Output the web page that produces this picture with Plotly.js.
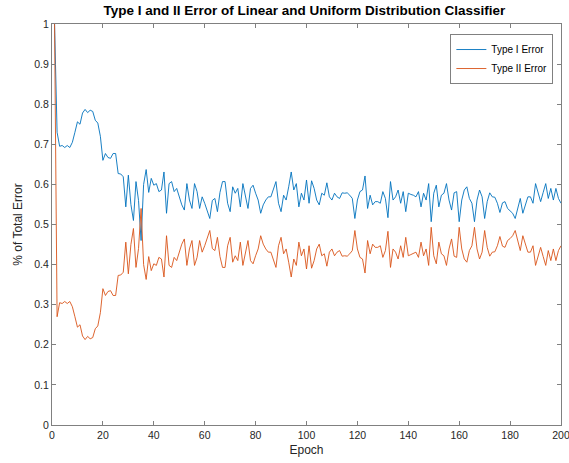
<!DOCTYPE html>
<html>
<head>
<meta charset="utf-8">
<script src="https://cdn.plot.ly/plotly-3.0.1.min.js"></script>
<style>
html,body{margin:0;padding:0;background:#fff;}
#chart{width:569px;height:463px;}
</style>
</head>
<body>
<div id="chart"></div>
<script>
// Epochs 1..200
const epochs = Array.from({length: 200}, (_, i) => i + 1);

const typeIError = [
1.0,0.73,0.695,0.697,0.692,0.697,0.692,0.705,0.73,0.756,
0.75,0.778,0.787,0.779,0.785,0.782,0.76,0.753,0.72,0.66,
0.677,0.667,0.665,0.677,0.677,0.627,0.626,0.619,0.544,0.623,
0.55,0.51,0.607,0.56,0.46,0.60,0.637,0.58,0.615,0.598,
0.602,0.582,0.586,0.631,0.528,0.602,0.607,0.582,0.59,0.57,
0.549,0.536,0.602,0.561,0.54,0.602,0.582,0.54,0.569,0.553,
0.535,0.515,0.56,0.565,0.532,0.58,0.607,0.607,0.553,0.532,
0.594,0.578,0.59,0.544,0.602,0.569,0.54,0.59,0.598,0.578,
0.561,0.528,0.549,0.561,0.569,0.569,0.586,0.607,0.553,0.532,
0.573,0.561,0.594,0.631,0.586,0.602,0.544,0.578,0.561,0.611,
0.553,0.609,0.59,0.561,0.549,0.578,0.573,0.604,0.569,0.561,
0.578,0.569,0.565,0.579,0.578,0.579,0.573,0.565,0.515,0.561,
0.582,0.586,0.621,0.54,0.573,0.549,0.557,0.557,0.553,0.582,
0.565,0.517,0.607,0.561,0.569,0.586,0.553,0.582,0.532,0.578,
0.575,0.573,0.569,0.582,0.544,0.578,0.561,0.602,0.507,0.578,
0.598,0.544,0.573,0.578,0.602,0.561,0.536,0.579,0.582,0.507,
0.561,0.586,0.594,0.565,0.553,0.507,0.561,0.586,0.569,0.515,
0.557,0.579,0.569,0.568,0.553,0.53,0.554,0.557,0.54,0.535,
0.528,0.515,0.544,0.565,0.528,0.549,0.569,0.569,0.553,0.602,
0.578,0.557,0.58,0.602,0.565,0.59,0.561,0.59,0.565,0.553
];

const typeIIError = [
1.0,0.27,0.305,0.303,0.308,0.303,0.308,0.295,0.27,0.244,
0.25,0.222,0.213,0.221,0.215,0.218,0.24,0.247,0.28,0.34,
0.323,0.333,0.335,0.323,0.323,0.373,0.374,0.381,0.456,0.377,
0.45,0.49,0.393,0.44,0.54,0.40,0.363,0.42,0.385,0.402,
0.398,0.418,0.414,0.369,0.472,0.398,0.393,0.418,0.41,0.43,
0.451,0.464,0.398,0.439,0.46,0.398,0.418,0.46,0.431,0.447,
0.465,0.485,0.44,0.435,0.468,0.42,0.393,0.393,0.447,0.468,
0.406,0.422,0.41,0.456,0.398,0.431,0.46,0.41,0.402,0.422,
0.439,0.472,0.451,0.439,0.431,0.431,0.414,0.393,0.447,0.468,
0.427,0.439,0.406,0.369,0.414,0.398,0.456,0.422,0.439,0.389,
0.447,0.391,0.41,0.439,0.451,0.422,0.427,0.396,0.431,0.439,
0.422,0.431,0.435,0.421,0.422,0.421,0.427,0.435,0.485,0.439,
0.418,0.414,0.379,0.46,0.427,0.451,0.443,0.443,0.447,0.418,
0.435,0.483,0.393,0.439,0.431,0.414,0.447,0.418,0.468,0.422,
0.425,0.427,0.431,0.418,0.456,0.422,0.439,0.398,0.493,0.422,
0.402,0.456,0.427,0.422,0.398,0.439,0.464,0.421,0.418,0.493,
0.439,0.414,0.406,0.435,0.447,0.493,0.439,0.414,0.431,0.485,
0.443,0.421,0.431,0.432,0.447,0.47,0.446,0.443,0.46,0.465,
0.472,0.485,0.456,0.435,0.472,0.451,0.431,0.431,0.447,0.398,
0.422,0.443,0.42,0.398,0.435,0.41,0.439,0.41,0.435,0.447
];

const seriesNames = ['Type I Error', 'Type II Error'];
const xTicks = [0,20,40,60,80,100,120,140,160,180,200];
const yTicks = [0,0.1,0.2,0.3,0.4,0.5,0.6,0.7,0.8,0.9,1];

const axisColor = '#262626';
const fontFam = 'Liberation Sans, Arial, Helvetica, sans-serif';

const traces = [
  {x: epochs, y: typeIError, name: seriesNames[0], type: 'scatter', mode: 'lines',
   line: {color: '#0072BD', width: 0.9}},
  {x: epochs, y: typeIIError, name: seriesNames[1], type: 'scatter', mode: 'lines',
   line: {color: '#D95319', width: 0.9}}
];

const axisCommon = {
  showgrid: false, zeroline: false, showline: true, linecolor: '#808080', linewidth: 1,
  mirror: 'ticks', ticks: 'inside', ticklen: 4, tickcolor: '#808080', tickwidth: 1,
  tickfont: {family: fontFam, size: 10.5, color: axisColor}
};

const layout = {
  width: 569, height: 463,
  margin: {l: 52, r: 8, t: 24, b: 38},
  paper_bgcolor: '#ffffff', plot_bgcolor: '#ffffff',
  font: {family: fontFam, color: axisColor},
  title: {text: '<b>Type I and II Error of Linear and Uniform Distribution Classifier</b>',
          font: {family: fontFam, size: 13.5, color: '#000000'},
          x: 0.535, xanchor: 'center', y: 0.978, yanchor: 'middle'},
  xaxis: Object.assign({}, axisCommon, {
    range: [0, 200], tickvals: xTicks, ticktext: xTicks.map(String),
    ticklabeloverflow: 'allow',
    title: {text: 'Epoch', font: {family: fontFam, size: 12, color: axisColor}, standoff: 6}
  }),
  yaxis: Object.assign({}, axisCommon, {
    range: [0, 1], tickvals: yTicks, ticktext: yTicks.map(String),
    title: {text: '% of Total Error', font: {family: fontFam, size: 12, color: axisColor}, standoff: 9}
  }),
  showlegend: true,
  legend: {x: 0.985, y: 0.975, xanchor: 'right', yanchor: 'top',
           bgcolor: '#ffffff', bordercolor: '#808080', borderwidth: 1,
           font: {family: fontFam, size: 10, color: '#000000'},
           tracegroupgap: 0, itemwidth: 30}
};

Plotly.newPlot('chart', traces, layout, {displayModeBar: false, staticPlot: true});
</script>
</body>
</html>
